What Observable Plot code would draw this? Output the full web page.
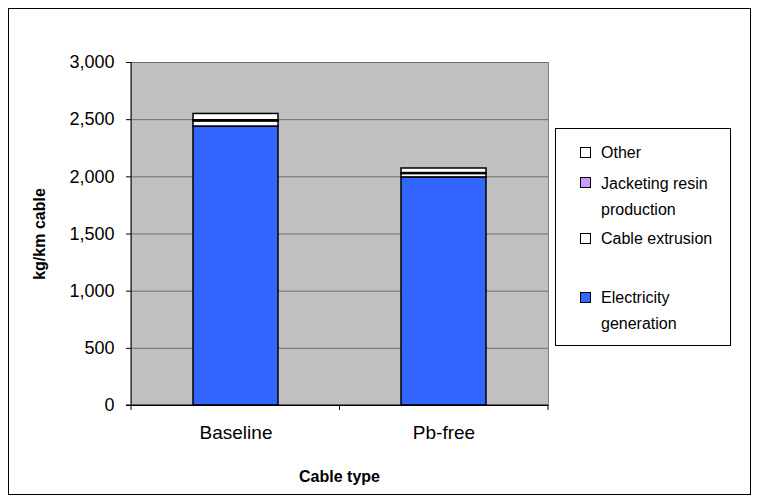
<!DOCTYPE html>
<html>
<head>
<meta charset="utf-8">
<script src="https://cdn.jsdelivr.net/npm/d3@7"></script>
<script src="https://cdn.jsdelivr.net/npm/@observablehq/plot@0.6"></script>
<style>
  body { margin: 0; background: #fff; }
  #wrap { position: relative; width: 760px; height: 504px; font-family: "Liberation Sans", Arial, sans-serif; }
  #wrap svg { position: absolute; left: 0; top: 0; }
  .frame { position: absolute; left: 8px; top: 8px; width: 743px; height: 487px; border: 1px solid #000; box-sizing: border-box; pointer-events: none; }
  .lbl { position: absolute; font-weight: bold; font-size: 16px; color: #000; white-space: nowrap; line-height: 1; }
  .legend { position: absolute; left: 555px; top: 128px; width: 176px; height: 218px; border: 1px solid #000; background: #fff; box-sizing: border-box; }
  .li { position: absolute; font-size: 16px; line-height: 20px; white-space: nowrap; color: #000; }
  .sw { position: absolute; width: 11px; height: 11px; border: 1.5px solid #000; box-sizing: border-box; }
</style>
</head>
<body>
<div id="wrap"></div>
<script>
// Data
const categories = ["Baseline", "Pb-free"];
const series = ["Electricity generation", "Cable extrusion", "Jacketing resin production", "Other"];
const electricity = [2440, 1995];
const extrusion = [45, 30];
const jacketing = [10, 8];
const other = [55, 40];
const yTicks = [0, 500, 1000, 1500, 2000, 2500, 3000];
const colors = ["#3366ff", "#ffffff", "#cc99ff", "#ffffff"];
const legendLines = [["Other"], ["Jacketing resin", "production"], ["Cable extrusion"], ["Electricity", "generation"]];
const legendOrder = ["Other", "Jacketing resin production", "Cable extrusion", "Electricity generation"];

const valuesBySeries = [electricity, extrusion, jacketing, other];
const rows = [];
series.forEach((s, i) => categories.forEach((c, j) => rows.push({cat: c, series: s, value: valuesBySeries[i][j]})));

const W = 760, H = 504;
const plot = Plot.plot({
  width: W, height: H,
  marginLeft: 131, marginRight: 212, marginTop: 62, marginBottom: 99,
  style: {fontFamily: "Liberation Sans, Arial, sans-serif", fontSize: "20px", color: "#000", background: "transparent"},
  x: {domain: categories, paddingInner: 0.592, paddingOuter: 0.296, label: null},
  y: {domain: [0, 3000], label: null},
  color: {domain: series, range: colors},
  marks: [
    Plot.frame({fill: "#c0c0c0", stroke: "#808080"}),
    Plot.gridY(yTicks, {stroke: "#6e6e6e", strokeOpacity: 1, strokeWidth: 1}),
    Plot.barY(rows, {x: "cat", y: "value", fill: "series", order: series, stroke: "#000", strokeWidth: 1.5}),
    Plot.axisY({ticks: yTicks, tickFormat: d3.format(","), tickSize: 5, tickPadding: 12, label: null, fontSize: 18}),
    Plot.axisX({tickSize: 0, tickPadding: 20, label: null, fontSize: 19}),
    Plot.ruleY([0], {stroke: "#000", strokeWidth: 1}),
  ]
});
const wrap = document.getElementById("wrap");
wrap.appendChild(plot);

// axis lines and category boundary ticks derived from the scales
const xs = plot.scale("x"), ys = plot.scale("y");
const svg = d3.select(plot);
const x0 = xs.range[0], x1 = xs.range[1];
const yTop = ys.apply(3000), yBot = ys.apply(0);
svg.append("line").attr("x1", x0).attr("x2", x0).attr("y1", yTop).attr("y2", yBot).attr("stroke", "#000");
svg.append("line").attr("x1", x0 - 5).attr("x2", x1).attr("y1", yBot).attr("y2", yBot).attr("stroke", "#000");
const bounds = [x0, ...categories.slice(1).map(c => xs.apply(c) - (xs.step - xs.bandwidth) / 2), x1];
bounds.forEach(b => svg.append("line").attr("x1", b).attr("x2", b).attr("y1", yBot).attr("y2", yBot + 5).attr("stroke", "#000"));

// titles
const ylab = document.createElement("div");
ylab.className = "lbl";
ylab.textContent = "kg/km cable";
ylab.style.left = "40px"; ylab.style.top = (yTop + yBot) / 2 + "px";
ylab.style.transform = "translate(-50%, -50%) rotate(-90deg)";
wrap.appendChild(ylab);
const xlab = document.createElement("div");
xlab.className = "lbl";
xlab.textContent = "Cable type";
xlab.style.left = (x0 + x1) / 2 + "px"; xlab.style.top = "477px";
xlab.style.transform = "translate(-50%, -50%)";
wrap.appendChild(xlab);

// legend
const leg = document.createElement("div");
leg.className = "legend";
wrap.appendChild(leg);
const swatchCenters = [24, 54, 110, 169];
const firstBaselines = [30, 61, 116, 175];
legendOrder.forEach((s, i) => {
  const col = colors[series.indexOf(s)];
  const sw = document.createElement("div");
  sw.className = "sw";
  sw.style.left = "24px"; sw.style.top = (swatchCenters[i] - 6.5) + "px"; sw.style.background = col;
  leg.appendChild(sw);
  legendLines[i].forEach((t, k) => {
    const d = document.createElement("div");
    d.className = "li";
    d.textContent = t;
    d.style.left = "45px"; d.style.top = (firstBaselines[i] - 16 + k * 26) + "px";
    leg.appendChild(d);
  });
});
const fr = document.createElement("div");
fr.className = "frame";
wrap.appendChild(fr);
</script>
</body>
</html>
